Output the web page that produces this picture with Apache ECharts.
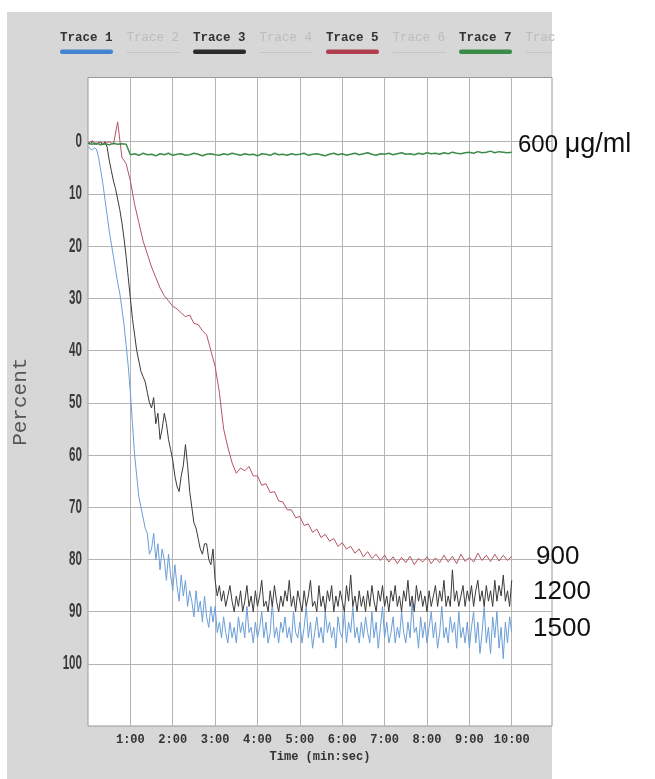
<!DOCTYPE html>
<html>
<head>
<meta charset="utf-8">
<script src="https://cdn.jsdelivr.net/npm/echarts@6/dist/echarts.min.js"></script>
<style>
  html, body { margin: 0; padding: 0; background: #fff; }
  #chart { width: 655px; height: 779px; }
</style>
</head>
<body>
<div id="chart"></div>
<script>
// sample times, minutes (red and green traces)
const time = [
  0, 0.1, 0.2, 0.3, 0.4, 0.5, 0.6, 0.7, 0.8, 0.9,
  1, 1.1, 1.2, 1.3, 1.4, 1.5, 1.6, 1.7, 1.8, 1.9,
  2, 2.1, 2.2, 2.3, 2.4, 2.5, 2.6, 2.7, 2.8, 2.9,
  3, 3.1, 3.2, 3.3, 3.4, 3.5, 3.6, 3.7, 3.8, 3.9,
  4, 4.1, 4.2, 4.3, 4.4, 4.5, 4.6, 4.7, 4.8, 4.9,
  5, 5.1, 5.2, 5.3, 5.4, 5.5, 5.6, 5.7, 5.8, 5.9,
  6, 6.1, 6.2, 6.3, 6.4, 6.5, 6.6, 6.7, 6.8, 6.9,
  7, 7.1, 7.2, 7.3, 7.4, 7.5, 7.6, 7.7, 7.8, 7.9,
  8, 8.1, 8.2, 8.3, 8.4, 8.5, 8.6, 8.7, 8.8, 8.9,
  9, 9.1, 9.2, 9.3, 9.4, 9.5, 9.6, 9.7, 9.8, 9.9,
  10
]

// finer sample times, minutes (blue and black traces)
const timeFine = [
  0, 0.05, 0.1, 0.15, 0.2, 0.25, 0.3, 0.35, 0.4, 0.45,
  0.5, 0.55, 0.6, 0.65, 0.7, 0.75, 0.8, 0.85, 0.9, 0.95,
  1, 1.05, 1.1, 1.15, 1.2, 1.25, 1.3, 1.35, 1.4, 1.45,
  1.5, 1.55, 1.6, 1.65, 1.7, 1.75, 1.8, 1.85, 1.9, 1.95,
  2, 2.05, 2.1, 2.15, 2.2, 2.25, 2.3, 2.35, 2.4, 2.45,
  2.5, 2.55, 2.6, 2.65, 2.7, 2.75, 2.8, 2.85, 2.9, 2.95,
  3, 3.05, 3.1, 3.15, 3.2, 3.25, 3.3, 3.35, 3.4, 3.45,
  3.5, 3.55, 3.6, 3.65, 3.7, 3.75, 3.8, 3.85, 3.9, 3.95,
  4, 4.05, 4.1, 4.15, 4.2, 4.25, 4.3, 4.35, 4.4, 4.45,
  4.5, 4.55, 4.6, 4.65, 4.7, 4.75, 4.8, 4.85, 4.9, 4.95,
  5, 5.05, 5.1, 5.15, 5.2, 5.25, 5.3, 5.35, 5.4, 5.45,
  5.5, 5.55, 5.6, 5.65, 5.7, 5.75, 5.8, 5.85, 5.9, 5.95,
  6, 6.05, 6.1, 6.15, 6.2, 6.25, 6.3, 6.35, 6.4, 6.45,
  6.5, 6.55, 6.6, 6.65, 6.7, 6.75, 6.8, 6.85, 6.9, 6.95,
  7, 7.05, 7.1, 7.15, 7.2, 7.25, 7.3, 7.35, 7.4, 7.45,
  7.5, 7.55, 7.6, 7.65, 7.7, 7.75, 7.8, 7.85, 7.9, 7.95,
  8, 8.05, 8.1, 8.15, 8.2, 8.25, 8.3, 8.35, 8.4, 8.45,
  8.5, 8.55, 8.6, 8.65, 8.7, 8.75, 8.8, 8.85, 8.9, 8.95,
  9, 9.05, 9.1, 9.15, 9.2, 9.25, 9.3, 9.35, 9.4, 9.45,
  9.5, 9.55, 9.6, 9.65, 9.7, 9.75, 9.8, 9.85, 9.9, 9.95,
  10
]

// Trace 1 - 1500 (timeFine)
const trace1 = [
  1.0, 1.3, 1.6, 1.2, 1.4, 3.0, 5.5, 8.0, 11, 14,
  17, 19.5, 22, 24.5, 27, 29, 32, 35, 39, 43,
  48, 54, 60, 64, 68, 70, 72, 74, 75, 79,
  78, 75, 80, 77, 82, 78, 80, 84, 79, 83,
  86, 81, 85, 88, 83, 87, 84, 89, 86, 88,
  91, 86, 90, 88, 92, 87, 91, 93, 89, 92,
  89, 94, 92, 95, 91, 94, 96, 92, 95, 93,
  96, 91, 94, 92, 95, 89, 94, 93, 96, 92,
  95, 93, 90, 95, 92, 96, 94, 88, 95, 93,
  96, 92, 94, 91, 95, 93, 96, 90, 94, 95,
  92, 96, 93, 89, 95, 92, 97, 94, 91, 95,
  93, 96, 90, 94, 92, 95, 93, 97, 91, 94,
  95, 90, 96, 92, 94, 89, 95, 93, 96, 92,
  95, 91, 94, 96, 90, 95, 92, 97, 93, 89,
  95, 92, 96, 94, 91, 96, 93, 95, 90, 94,
  96, 92, 95, 88, 94, 93, 97, 91, 95, 92,
  96, 93, 90, 95, 92, 97, 94, 89, 95, 93,
  96, 91, 94, 92, 97, 90, 95, 93, 96, 92,
  97, 93, 90, 96, 92, 98, 94, 89, 96, 93,
  98, 91, 95, 90, 97, 93, 99, 92, 96, 91,
  94
]

// Trace 3 - 1200 (timeFine)
const trace3 = [
  0.3, 0.5, 0.0, 0.4, 0.5, 0.1, 0.2, 0.6, 0.0, 1.0,
  3.5, 5.5, 7.5, 9.0, 11, 13, 15.5, 18.5, 22, 26,
  30, 34, 37, 40, 42, 44, 45, 46, 48, 50,
  51, 49, 54, 52, 57, 55, 52, 54, 57, 59,
  61, 64, 66, 67, 64, 62, 58, 62, 67, 70,
  73, 74, 76, 78, 79, 77, 77, 80, 81, 78,
  84, 87, 85, 88, 86, 89, 87, 85, 88, 90,
  87, 89, 86, 90, 88, 85, 89, 87, 90, 86,
  89, 87, 84, 89, 88, 90, 86, 89, 85, 88,
  90, 87, 89, 86, 88, 84, 89, 87, 90, 86,
  88, 90, 86, 89, 87, 84, 89, 88, 90, 85,
  89, 87, 90, 86, 88, 85, 90, 87, 89, 86,
  88, 90, 85, 88, 83, 89, 87, 90, 86, 89,
  87, 90, 86, 89, 85, 88, 90, 86, 88, 85,
  89, 87, 90, 86, 88, 85, 89, 87, 90, 86,
  88, 84, 89, 87, 90, 85, 88, 86, 89, 87,
  90, 86, 89, 87, 85, 89, 86, 88, 84, 89,
  87, 89, 82, 88, 86, 89, 87, 85, 89, 86,
  88, 85, 89, 86, 84, 88, 86, 89, 85, 88,
  86, 89, 84, 88, 85, 87, 83, 88, 86, 89,
  84
]

// Trace 5 - 900 (time)
const trace5 = [
  0.3, -0.2, 0.5, 0.1, 0.4, 0.0, 0.5, -3.8, 3.0, 4.2,
  7.5, 12, 15.5, 19, 21.5, 24, 26, 28, 29.5, 30.5,
  31.5, 32, 32.8, 33.5, 33.2, 34.8, 35, 36.2, 37, 40,
  43, 48, 55, 58.5, 61.5, 63.5, 62.5, 63, 62.2, 64,
  64, 65.8, 65.5, 67.2, 67, 68.8, 69, 70.5, 70.5, 72,
  71.8, 73.5, 73.2, 74.8, 74.2, 75.8, 75.2, 76.5, 76, 77.5,
  76.8, 78, 77.5, 78.8, 78, 79.5, 78.5, 79.8, 79, 80.2,
  79.2, 80.5, 79.5, 80.8, 79.6, 80.6, 79.4, 81, 79.8, 80.5,
  79.5, 80.8, 79.7, 80.6, 79.2, 80.5, 79.4, 80.8, 79, 80.4,
  79.6, 80.5, 78.8, 80.2, 79.2, 80.4, 79.0, 80.3, 79.2, 80.2,
  79.4
]

// Trace 7 - 600 (time)
const trace7 = [
  0.2, 0.5, 0.3, 0.6, 0.4, 0.6, 0.3, 0.5, 0.4, 0.5,
  2.5, 2.3, 2.6, 2.2, 2.5, 2.4, 2.7, 2.3, 2.5, 2.2,
  2.6, 2.4, 2.3, 2.6, 2.5, 2.2, 2.4, 2.7, 2.4, 2.3,
  2.5, 2.6, 2.3, 2.5, 2.2, 2.4, 2.6, 2.3, 2.5, 2.4,
  2.7, 2.3, 2.4, 2.6, 2.2, 2.5, 2.4, 2.6, 2.3, 2.5,
  2.4, 2.2, 2.6, 2.4, 2.3, 2.5, 2.7, 2.4, 2.2, 2.5,
  2.3, 2.6, 2.4, 2.2, 2.5, 2.3, 2.1, 2.4, 2.6, 2.3,
  2.4, 2.2, 2.5, 2.3, 2.1, 2.4, 2.3, 2.5, 2.2, 2.4,
  2.1, 2.3, 2.2, 2.4, 2.1, 2.3, 2.0, 2.2, 2.3, 2.1,
  2.0, 2.2, 1.9, 2.1, 2.0, 1.8, 2.1, 1.9, 2.0, 2.1,
  2.0
]

const percentTicks = [0, 10, 20, 30, 40, 50, 60, 70, 80, 90, 100]
const minuteTicks = [1, 2, 3, 4, 5, 6, 7, 8, 9, 10]
const traceNames = ['Trace 1', 'Trace 2', 'Trace 3', 'Trace 4', 'Trace 5', 'Trace 6', 'Trace 7', 'Trac']
const doseLabels = ['600', '900', '1200', '1500']
const doseUnit = 'μg/ml'

const legendColors = ['#4483cf', null, '#2c2c2c', null, '#b0404f', null, '#3a8a48', null]
const lineColors = { t1: '#6a9ed8', t3: '#3a3a3a', t5: '#b65462', t7: '#3d8b4b' }

const pair = (ts, vals) => ts.map((t, i) => [t, vals[i]])

const chart = echarts.init(document.getElementById('chart'))

const panel = { type: 'rect', shape: { x: 7, y: 12, width: 545, height: 767 }, z: -10, style: { fill: '#d7d7d7' } }

const legendGraphics = []
traceNames.forEach((name, i) => {
    const x = 60 + 66.5 * i
    const on = legendColors[i] != null
    legendGraphics.push({
        type: 'text', left: x, top: 31, z: 10,
        style: {
            text: name, fill: on ? '#333' : '#bcbcbc',
            font: (on ? 'bold ' : '') + '12.5px "Liberation Mono", "DejaVu Sans Mono", monospace'
        }
    })
    const w = name.length > 4 ? 53 : 26
    legendGraphics.push(on ? {
        type: 'rect', shape: { x: x, y: 49.5, width: w, height: 4.5, r: 2 }, z: 10,
        style: { fill: legendColors[i] }
    } : {
        type: 'rect', shape: { x: x, y: 52, width: w, height: 1 }, z: 10,
        style: { fill: '#c4c4c4' }
    })
})

const doseY = [145, 557, 592, 629]
const doseX = [518, 536, 533, 533]
const doseGraphics = doseLabels.map((t, i) => ({
    type: 'text', x: doseX[i], y: doseY[i], z: 10,
    style: i === 0 ? {
        text: '{n|' + t + '}  {u|' + doseUnit + '}', verticalAlign: 'middle',
        rich: {
            n: { fontSize: 24, fontFamily: '"Liberation Sans", Arial, sans-serif', fill: '#111' },
            u: { fontSize: 27, fontFamily: '"Liberation Sans", Arial, sans-serif', fill: '#111' }
        }
    } : {
        text: t, fill: '#111', verticalAlign: 'middle',
        font: '26px "Liberation Sans", Arial, sans-serif'
    }
}))

chart.setOption({
    animation: false,
    backgroundColor: '#fff',
    graphic: [panel, ...legendGraphics, ...doseGraphics],
    grid: {
        left: 88, top: 77.5, right: 103, bottom: 53,
        show: true, backgroundColor: '#fff', borderColor: '#9a9a9a', borderWidth: 1
    },
    xAxis: {
        type: 'value', min: 0, max: 10.95,
        name: 'Time (min:sec)', nameLocation: 'middle', nameGap: 24,
        nameTextStyle: { fontFamily: '"Liberation Mono", monospace', fontWeight: 'bold', fontSize: 12, color: '#333' },
        axisLine: { show: false },
        axisTick: { show: false, customValues: minuteTicks },
        axisLabel: {
            customValues: minuteTicks, margin: 8,
            formatter: v => v + ':00',
            fontFamily: '"Liberation Mono", monospace', fontWeight: 'bold', fontSize: 12, color: '#333'
        },
        splitLine: { show: true, lineStyle: { color: '#b4b4b4', width: 1 } }
    },
    yAxis: {
        type: 'value', inverse: true, min: -12.3, max: 111.9,
        name: 'Percent', nameLocation: 'middle', nameGap: 57,
        nameTextStyle: { fontFamily: '"Liberation Mono", monospace', fontSize: 21, color: '#555' },
        axisLine: { show: false },
        axisTick: { show: false, customValues: percentTicks },
        // drawn below as narrow text from the axis scale
        axisLabel: { show: false, customValues: percentTicks },
        splitLine: { show: true, lineStyle: { color: '#b4b4b4', width: 1 } }
    },
    series: [
        { name: 'Trace 1', type: 'line', data: pair(timeFine, trace1), showSymbol: false, lineStyle: { color: lineColors.t1, width: 1 } },
        { name: 'Trace 3', type: 'line', data: pair(timeFine, trace3), showSymbol: false, lineStyle: { color: lineColors.t3, width: 1 } },
        { name: 'Trace 5', type: 'line', data: pair(time, trace5), showSymbol: false, lineStyle: { color: lineColors.t5, width: 1 } },
        { name: 'Trace 7', type: 'line', data: pair(time, trace7), showSymbol: false, lineStyle: { color: lineColors.t7, width: 1.5 } }
    ]
})

// condensed percent labels, placed through the y axis scale
const yLabels = percentTicks.map(v => ({
    type: 'text', x: 82, y: chart.convertToPixel({ yAxisIndex: 0 }, v), scaleX: 0.58, z: 10,
    style: {
        text: String(v), align: 'right', verticalAlign: 'middle', fill: '#3a3a3a',
        font: 'bold 20px "Liberation Sans", Arial, sans-serif'
    }
}))
chart.setOption({
    graphic: [panel, ...legendGraphics, ...doseGraphics, ...yLabels]
}, { replaceMerge: ['graphic'] })
</script>
</body>
</html>
